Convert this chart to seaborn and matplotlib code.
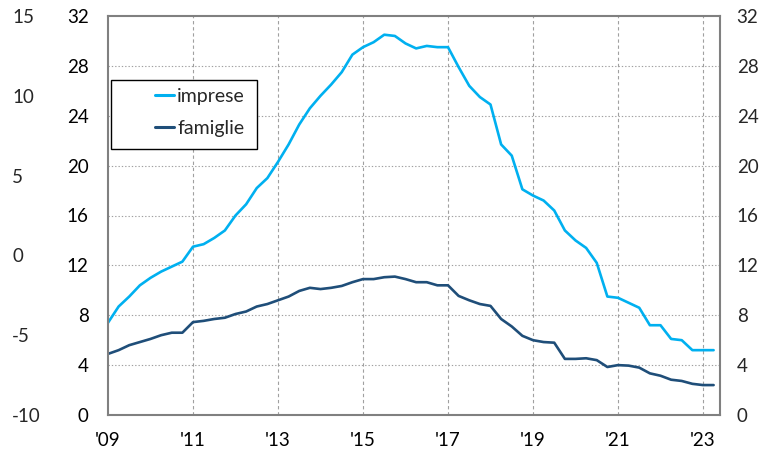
import numpy as np
import pandas as pd
import matplotlib
matplotlib.use("Agg")
import matplotlib.pyplot as plt
from matplotlib.patches import Rectangle
import seaborn as sns

# quarterly observations, 2009 Q1 .. 2023 Q2
start_year = 2009
imprese = [7.4, 8.7, 9.5, 10.4, 11.0, 11.5, 11.9, 12.3,
           13.5, 13.7, 14.2, 14.8, 16.0, 16.9, 18.2, 19.0,
           20.3, 21.7, 23.3, 24.6, 25.6, 26.5, 27.5, 28.9,
           29.5, 29.9, 30.5, 30.4, 29.8, 29.4, 29.6, 29.5,
           29.5, 27.9, 26.4, 25.5, 24.9, 21.7, 20.8, 18.1,
           17.6, 17.2, 16.4, 14.8, 14.0, 13.4, 12.2, 9.5,
           9.4, 9.0, 8.6, 7.2, 7.2, 6.1, 6.0, 5.2,
           5.2, 5.2]
famiglie = [4.9, 5.2, 5.6, 5.85, 6.1, 6.4, 6.6, 6.6,
            7.45, 7.55, 7.7, 7.8, 8.1, 8.3, 8.7, 8.9,
            9.2, 9.5, 9.95, 10.2, 10.1, 10.2, 10.35, 10.65,
            10.9, 10.9, 11.05, 11.1, 10.9, 10.65, 10.65, 10.4,
            10.4, 9.55, 9.2, 8.9, 8.75, 7.7, 7.1, 6.35,
            6.0, 5.85, 5.8, 4.5, 4.5, 4.55, 4.4, 3.85,
            4.0, 3.96, 3.8, 3.34, 3.15, 2.83, 2.73, 2.5,
            2.4, 2.4]
series_names = ["imprese", "famiglie"]
colors = ["#00B0F0", "#1F4E79"]
x_tick_years = [2009, 2011, 2013, 2015, 2017, 2019, 2021, 2023]
x_tick_labels = ["'09", "'11", "'13", "'15", "'17", "'19", "'21", "'23"]
y_ticks = [0, 4, 8, 12, 16, 20, 24, 28, 32]
outer_ticks = [-10, -5, 0, 5, 10, 15]

t = start_year + np.arange(len(imprese)) / 4.0
df = pd.DataFrame({
    "t": np.concatenate([t, t]),
    "value": imprese + famiglie,
    "serie": [series_names[0]] * len(imprese) + [series_names[1]] * len(famiglie),
})

sns.set_style("white")
plt.rcParams["font.family"] = ["Lato", "DejaVu Sans"]
plt.rcParams["axes.unicode_minus"] = False

fig = plt.figure(figsize=(7.74, 4.55), dpi=100)
ax = fig.add_axes([108/774, 1 - 415/455, (720-108)/774, (415-16)/455])

sns.lineplot(data=df, x="t", y="value", hue="serie", palette=colors,
             hue_order=series_names, linewidth=1.9, ax=ax, legend=True)

ax.set_xlim(2009, 2023.4)
ax.set_ylim(0, 32)
ax.set_xticks(x_tick_years)
ax.set_xticklabels(x_tick_labels)
ax.set_yticks(y_ticks)
ax.set_xlabel("")
ax.set_ylabel("")

fs = 13.5
ax.tick_params(axis="y", length=0, pad=14, labelsize=fs, colors="#000000")
ax.tick_params(axis="x", length=0, pad=12, labelsize=fs, colors="#000000")

# grid
for yv in y_ticks[1:-1]:
    ax.axhline(yv, color="#a0a0a0", lw=0.8, ls=(0, (1.2, 1.8)), zorder=0)
for xv in x_tick_years[1:]:
    ax.axvline(xv, color="#a0a0a0", lw=0.8, ls=(0, (3, 2.5)), zorder=0)

for s in ax.spines.values():
    s.set_color("#808080")
    s.set_linewidth(1.5)

# right mirror axis
ax2 = ax.twinx()
ax2.set_ylim(0, 32)
ax2.set_yticks(y_ticks)
ax2.tick_params(axis="y", length=0, pad=12, labelsize=fs)
for s in ax2.spines.values():
    s.set_visible(False)

# outer left axis
ax3 = ax.twinx()
ax3.set_ylim(-10, 15)
ax3.set_yticks(outer_ticks)
ax3.yaxis.set_ticks_position("left")
ax3.tick_params(axis="y", length=0, pad=69, labelsize=fs)
for lab in ax3.get_yticklabels():
    lab.set_horizontalalignment("left")
for s in ax3.spines.values():
    s.set_visible(False)

# legend
handles, labels = ax.get_legend_handles_labels()
ax.get_legend().remove()
box = Rectangle((3/612, (415-149)/399), 146/612, 69/399, transform=ax.transAxes,
                facecolor="white", edgecolor="black", lw=1.0, zorder=5)
ax.add_patch(box)
leg = ax.legend(handles, labels, loc="upper left",
                bbox_to_anchor=((155-108)/612, (415-88)/399),
                frameon=False, fontsize=14, handlelength=1.0,
                handletextpad=0.15, labelspacing=0.75, borderaxespad=0,
                borderpad=0)
leg.set_zorder(6)
for h in leg.get_lines():
    h.set_linewidth(2.2)

fig.savefig("out.png", dpi=100)
